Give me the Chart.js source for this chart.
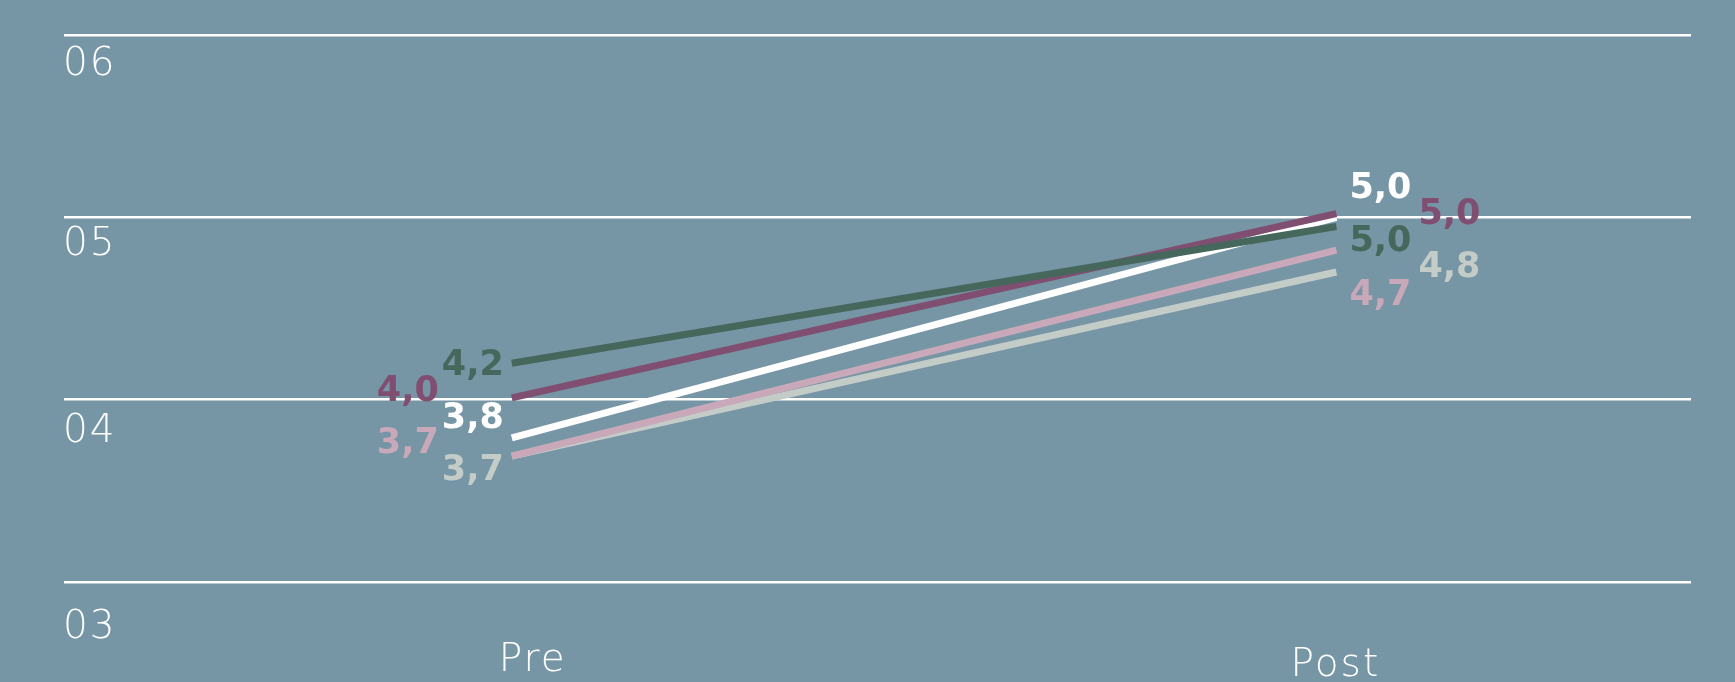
<!DOCTYPE html>
<html>
<head>
<meta charset="utf-8">
<title>Pre / Post</title>
<script src="https://cdn.jsdelivr.net/npm/chart.js@4.4.1/dist/chart.umd.min.js"></script>
<style>
    html, body { margin: 0; padding: 0; background: #7695a5; }
    #wrap { width: 1735px; height: 682px; }
</style>
</head>
<body>
<div id="wrap"><canvas id="chart" width="1735" height="682"></canvas></div>
<script>
// ---------------------------------------------------------
// Data
// ---------------------------------------------------------
const categories = ["Pre", "Post"];

const greenValues = [4.2, 4.95];
const purpleValues = [4.01, 5.02];
const whiteValues = [3.79, 5.0];
const pinkValues = [3.69, 4.82];
const greyValues = [3.69, 4.7];

// value labels as printed next to the line ends
const greenLabels = ["4,2", "5,0"];
const purpleLabels = ["4,0", "5,0"];
const whiteLabels = ["3,8", "5,0"];
const pinkLabels = ["3,7", "4,7"];
const greyLabels = ["3,7", "4,8"];

const yTicks = [6, 5, 4, 3];
const yTickLabels = ["06", "05", "04", "03"];

// ---------------------------------------------------------
// Styles
// ---------------------------------------------------------
const TEXT = "#ffffff";
const LIGHT_FONT = "200 39px 'DejaVu Sans'";
const BOLD_FONT = "bold 35px 'DejaVu Sans'";

// label offsets from the line end: [pre, post]
const series = [
    { values: greenValues, labels: greenLabels, color: "#46675b",
      offsets: [{ dx: -8, dy: 12 }, { dx: 13, dy: 25 }] },
    { values: purpleValues, labels: purpleLabels, color: "#804e71",
      offsets: [{ dx: -73, dy: 3 }, { dx: 82, dy: 10 }] },
    { values: whiteValues, labels: whiteLabels, color: "#ffffff",
      offsets: [{ dx: -8, dy: -10 }, { dx: 13, dy: -19 }] },
    { values: pinkValues, labels: pinkLabels, color: "#c8a8b9",
      offsets: [{ dx: -73, dy: -3 }, { dx: 13, dy: 55 }] },
    { values: greyValues, labels: greyLabels, color: "#c4ccc8",
      offsets: [{ dx: -8, dy: 24 }, { dx: 82, dy: 5 }] },
];

// category label placement below the plot
const catOffsets = [{ dx: 21, dy: 89 }, { dx: -1, dy: 94 }];
// y label baselines below their gridline
const yLabelDy = [40, 38, 42, 56];


// ---------------------------------------------------------
// Plugin: axis text + value labels
// ---------------------------------------------------------
const labelPlugin = {
    id: "prePostLabels",
    afterDatasetsDraw(chart) {
        const ctx = chart.ctx;
        const xScale = chart.scales.x;
        const yScale = chart.scales.y;
        const area = chart.chartArea;

        ctx.save();
        ctx.textBaseline = "alphabetic";

        // value labels
        ctx.font = BOLD_FONT;
        chart.data.datasets.forEach((ds, di) => {
            const meta = chart.getDatasetMeta(di);
            const s = series[di];
            meta.data.forEach((pt, i) => {
                const off = s.offsets[i];
                ctx.fillStyle = s.color;
                ctx.textAlign = i === 0 ? "right" : "left";
                ctx.fillText(s.labels[i], pt.x + off.dx, pt.y + off.dy);
            });
        });

        // y labels sit under each gridline
        ctx.font = LIGHT_FONT;
        ctx.letterSpacing = "2px";
        ctx.fillStyle = TEXT;
        ctx.textAlign = "left";
        yTicks.forEach((v, i) => {
            ctx.fillText(yTickLabels[i], area.left - 1, yScale.getPixelForValue(v) + yLabelDy[i]);
        });

        // categories
        ctx.textAlign = "center";
        categories.forEach((c, i) => {
            const off = catOffsets[i];
            ctx.fillText(c, xScale.getPixelForValue(i) + off.dx, area.bottom + off.dy);
        });

        ctx.restore();
    },
};


// ---------------------------------------------------------
// Chart
// ---------------------------------------------------------
new Chart(document.getElementById("chart"), {
    type: "line",
    data: {
        datasets: series.map((s) => ({
            data: categories.map((c, i) => ({ x: i, y: s.values[i] })),
            borderColor: s.color,
            backgroundColor: s.color,
            borderWidth: 7,
            pointRadius: 0,
            tension: 0,
            fill: false,
        })),
    },
    options: {
        responsive: false,
        animation: false,
        layout: { padding: { left: 64, right: 44, top: 35, bottom: 100 } },
        plugins: {
            legend: { display: false },
            tooltip: { enabled: false },
        },
        scales: {
            x: {
                type: "linear",
                min: -0.543,
                max: 1.43,
                display: false,
            },
            y: {
                min: 3,
                max: 6,
                border: { display: false },
                grid: { color: "#ffffff", lineWidth: 2.5, drawTicks: false },
                ticks: { stepSize: 1, display: false },
            },
        },
    },
    plugins: [labelPlugin],
});
</script>
</body>
</html>
